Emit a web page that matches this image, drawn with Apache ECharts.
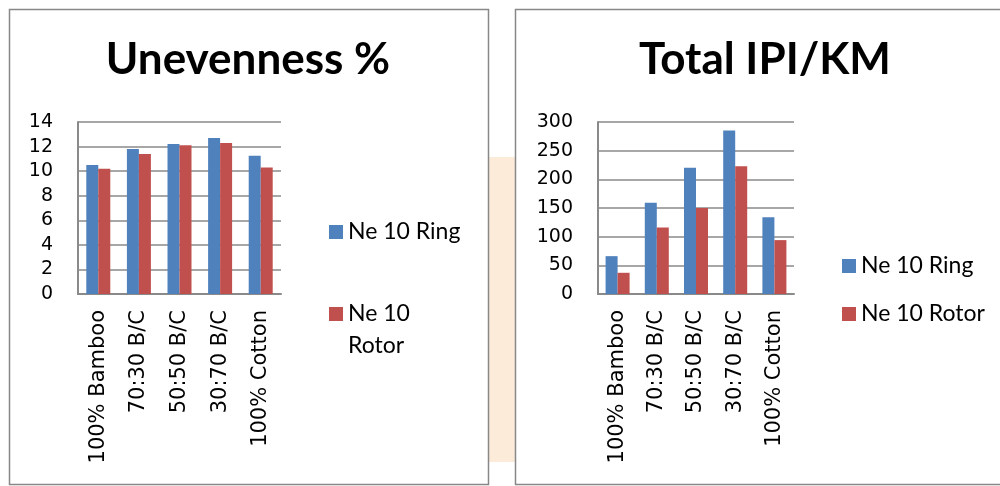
<!DOCTYPE html>
<html>
<head>
<meta charset="utf-8">
<script src="https://cdn.jsdelivr.net/npm/echarts@6/dist/echarts.min.js"></script>
<style>
html,body{margin:0;padding:0;background:#fff;}
#c{width:1000px;height:486px;}
</style>
</head>
<body>
<div id="c"></div>
<script>
var categories = ['100% Bamboo', '70:30 B/C', '50:50 B/C', '30:70 B/C', '100% Cotton'];
var seriesNames = ['Ne 10 Ring', 'Ne 10 Rotor'];
var unevenRing = [10.5, 11.8, 12.2, 12.7, 11.25];
var unevenRotor = [10.2, 11.4, 12.1, 12.3, 10.3];
var ipiRing = [66, 159, 220, 285, 134];
var ipiRotor = [37, 116, 150, 223, 94];
var titles = ['Unevenness %', 'Total IPI/KM'];
var unevenTicks = {min: 0, max: 14, interval: 2};
var ipiTicks = {min: 0, max: 300, interval: 50};

var FONT = 'Lato';
var AXFONT = 'DejaVu Sans';
var BLUE = '#4f81bd', RED = '#c0504d';
var GRID = '#8a8a8a';

function xAxis(idx) {
  return {
    type: 'category', gridIndex: idx, data: categories,
    axisLine: {lineStyle: {color: GRID, width: 2}},
    axisTick: {show: false},
    axisLabel: {rotate: 90, fontFamily: AXFONT, fontSize: 21, color: '#000', margin: 16, interval: 0}
  };
}
function yAxis(idx, t) {
  return {
    type: 'value', gridIndex: idx, min: t.min, max: t.max, interval: t.interval,
    axisLine: {show: true, lineStyle: {color: GRID, width: 2}},
    axisTick: {show: false},
    splitLine: {lineStyle: {color: GRID, width: 1.5}},
    axisLabel: {fontFamily: AXFONT, fontSize: 19, color: '#000', margin: 25}
  };
}
function bar(name, data, idx, color) {
  return {
    name: name, type: 'bar', xAxisIndex: idx, yAxisIndex: idx, data: data,
    barWidth: 12, barGap: '0%', itemStyle: {color: color}, animation: false
  };
}
var legendText = {fontFamily: FONT, fontSize: 23, color: '#000', lineHeight: 24};

var chart = echarts.init(document.getElementById('c'), null, {renderer: 'canvas'});
chart.setOption({
  animation: false,
  graphic: [
    {type: 'rect', z: -10, shape: {x: 489, y: 157, width: 26, height: 305}, style: {fill: '#fdebd9'}, silent: true},
    {type: 'rect', z: -5, shape: {x: 9.5, y: 9.5, width: 479, height: 475}, style: {fill: '#fff', stroke: '#888', lineWidth: 1.5}, silent: true},
    {type: 'rect', z: -5, shape: {x: 515.5, y: 9.5, width: 490, height: 475}, style: {fill: '#fff', stroke: '#888', lineWidth: 1.5}, silent: true}
  ],
  title: [
    {text: titles[0], left: 243, top: 33, textAlign: 'center',
     textStyle: {fontFamily: FONT, fontWeight: 'bold', fontSize: 44, color: '#000'}},
    {text: titles[1], left: 760, top: 33, textAlign: 'center',
     textStyle: {fontFamily: FONT, fontWeight: 'bold', fontSize: 44, color: '#000'}}
  ],
  legend: [
    {data: [seriesNames[0]], orient: 'vertical', left: 324, top: 215, itemWidth: 14, itemHeight: 14, itemGap: 0,
     icon: 'rect', textStyle: legendText, selectedMode: false},
    {data: [seriesNames[1]], orient: 'vertical', left: 324, top: 261, itemWidth: 14, itemHeight: 14, itemGap: 0,
     icon: 'rect', formatter: function (n) { return '\nNe 10\nRotor'; },
     textStyle: {fontFamily: FONT, fontSize: 23, color: '#000', lineHeight: 32}, selectedMode: false},
    {data: seriesNames, orient: 'vertical', left: 837, top: 249, itemWidth: 14, itemHeight: 14, itemGap: 24,
     icon: 'rect', textStyle: legendText, selectedMode: false}
  ],
  grid: [
    {left: 78, top: 122, width: 203, height: 172},
    {left: 598, top: 122, width: 196, height: 172}
  ],
  xAxis: [xAxis(0), xAxis(1)],
  yAxis: [yAxis(0, unevenTicks), yAxis(1, ipiTicks)],
  series: [
    bar(seriesNames[0], unevenRing, 0, BLUE),
    bar(seriesNames[1], unevenRotor, 0, RED),
    bar(seriesNames[0], ipiRing, 1, BLUE),
    bar(seriesNames[1], ipiRotor, 1, RED)
  ]
});
</script>
</body>
</html>
